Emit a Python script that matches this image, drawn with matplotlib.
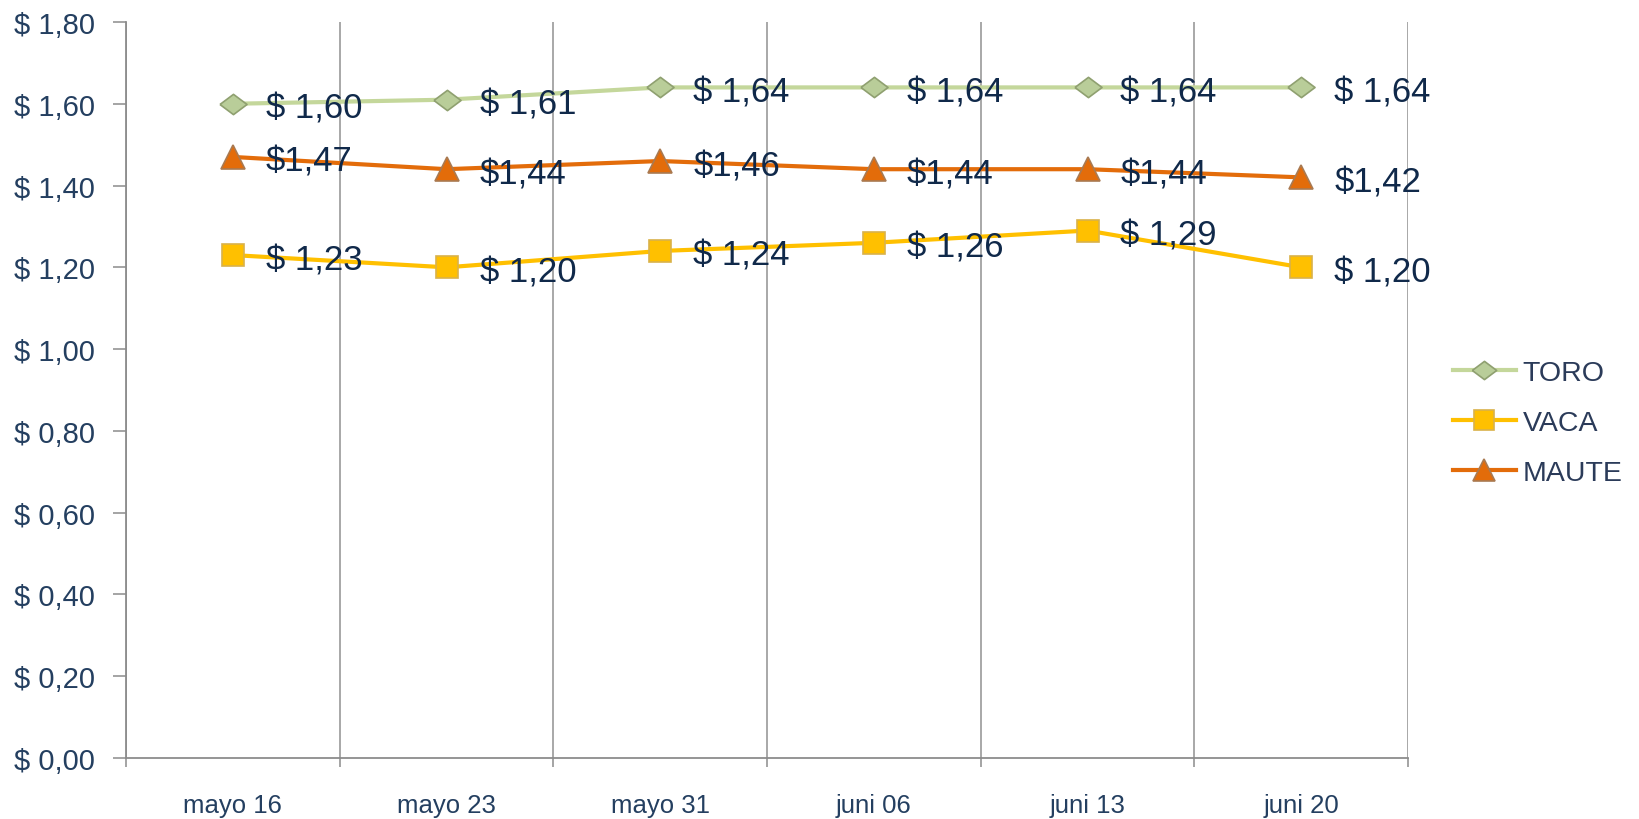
import matplotlib
matplotlib.use("Agg")
import matplotlib.pyplot as plt
import numpy as np

plt.rcParams['font.family'] = ['Liberation Sans', 'DejaVu Sans']

categories = ["mayo 16", "mayo 23", "mayo 31", "juni 06", "juni 13", "juni 20"]
toro = [1.60, 1.61, 1.64, 1.64, 1.64, 1.64]
vaca = [1.23, 1.20, 1.24, 1.26, 1.29, 1.20]
maute = [1.47, 1.44, 1.46, 1.44, 1.44, 1.42]
ytick_values = [0.0, 0.2, 0.4, 0.6, 0.8, 1.0, 1.2, 1.4, 1.6, 1.8]
ytick_labels = ["$ 0,00", "$ 0,20", "$ 0,40", "$ 0,60", "$ 0,80",
                "$ 1,00", "$ 1,20", "$ 1,40", "$ 1,60", "$ 1,80"]

def fmt_space(v):
    return "$ " + f"{v:.2f}".replace(".", ",")

def fmt_nospace(v):
    return "$" + f"{v:.2f}".replace(".", ",")

W, H = 1639, 820
fig = plt.figure(figsize=(W / 100, H / 100), dpi=100)
ax = fig.add_axes([126 / W, 1 - 759 / H, (1408 - 126) / W, (759 - 23) / H])

x = np.arange(len(categories))
diamond = [(-1, 0), (0, 0.75), (1, 0), (0, -0.75), (-1, 0)]

series = [
    ("TORO", toro, "#C4D79B", "#B9CD99", "#8FA070", diamond, 19.5, fmt_space),
    ("VACA", vaca, "#FFC000", "#FFC000", "#D9B24A", "s", 16.5, fmt_space),
    ("MAUTE", maute, "#E36C0A", "#E36C0A", "#A97A52", "^", 17, fmt_nospace),
]

for name, vals, lc, fc, ec, mk, ms, fmt in series:
    ax.plot(x, vals, color=lc, lw=3.0, marker=mk, markersize=ms,
            markerfacecolor=fc, markeredgecolor=ec, markeredgewidth=1.2,
            label=name, zorder=3)
    for xi, v in zip(x, vals):
        ax.annotate(fmt(v), (xi, v), xytext=(33, -1), textcoords="offset pixels",
                    ha="left", va="center_baseline", fontsize=25,
                    color="#10294A", zorder=5)

ax.set_xlim(-0.5, len(categories) - 0.5)
ax.set_ylim(0, 1.8)

grey = "#8C8C8C"
for s in ["top", "right"]:
    ax.spines[s].set_visible(False)
for s in ["left", "bottom"]:
    ax.spines[s].set_color(grey)
    ax.spines[s].set_linewidth(1.3)

ax.set_yticks(ytick_values)
ax.set_yticklabels(ytick_labels)
ax.tick_params(axis="y", direction="out", length=9.4, width=1.1, color=grey,
               pad=13, labelsize=21, labelcolor="#243F60")

bounds = np.arange(-0.5, len(categories), 1.0)
ax.set_xticks(bounds)
ax.set_xticklabels([])
ax.set_xticks(x, minor=True)
ax.set_xticklabels(categories, minor=True)
ax.tick_params(axis="x", which="major", direction="out", length=6.5, width=1.1,
               color=grey)
ax.tick_params(axis="x", which="minor", length=0, pad=25, labelsize=18.5,
               labelcolor="#243F60")
ax.xaxis.grid(True, which="major", color="#9A9A9A", lw=1.2)
ax.set_axisbelow(True)

leg = fig.legend(loc="center left", bbox_to_anchor=(1453 / W, 1 - 424 / H),
                 frameon=False, fontsize=20.5, handlelength=2.2, handletextpad=0.25,
                 labelspacing=0.85, borderpad=0, borderaxespad=0, markerscale=0.9)
for t in leg.get_texts():
    t.set_color("#2B3B59")

fig.savefig("out.png", dpi=100)
